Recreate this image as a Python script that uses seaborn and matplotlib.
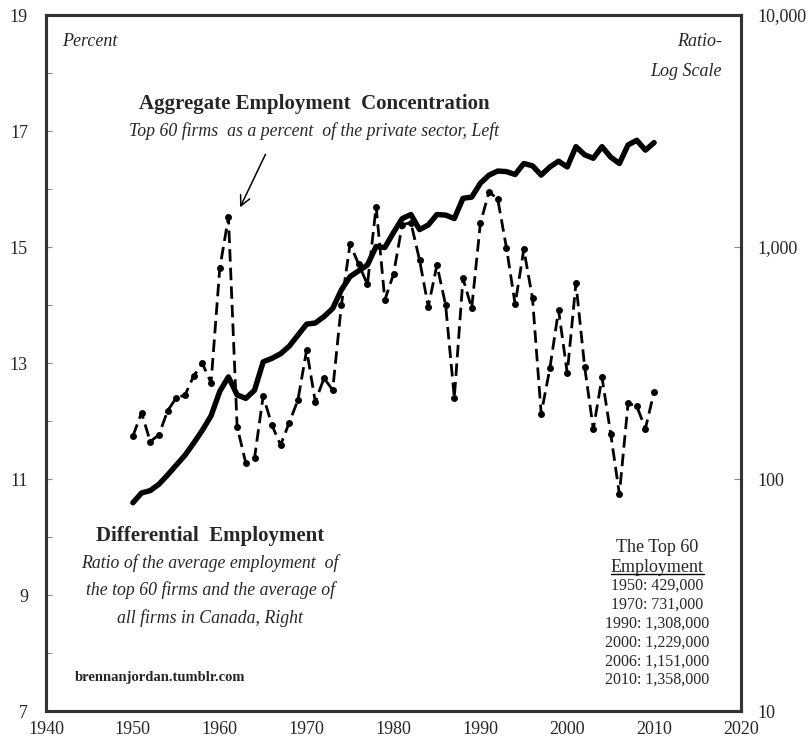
import numpy as np
import pandas as pd
import matplotlib
matplotlib.use('Agg')
import matplotlib.pyplot as plt
import seaborn as sns
from matplotlib.lines import Line2D
from matplotlib.ticker import FixedLocator, MultipleLocator, NullLocator

years = list(range(1950, 2011))

# Top 60 firms as % of private sector employment (left axis)
concentration = [
    10.59, 10.76, 10.80, 10.91, 11.07, 11.24, 11.41, 11.62, 11.84, 12.09,
    12.51, 12.76, 12.45, 12.39, 12.53, 13.02, 13.08, 13.16, 13.29, 13.48,
    13.67, 13.69, 13.80, 13.94, 14.26, 14.49, 14.59, 14.69, 15.01, 14.99,
    15.25, 15.49, 15.56, 15.30, 15.38, 15.56, 15.55, 15.49, 15.84, 15.86,
    16.10, 16.24, 16.31, 16.30, 16.25, 16.44, 16.40, 16.24, 16.38, 16.48,
    16.38, 16.73, 16.59, 16.53, 16.73, 16.55, 16.44, 16.76, 16.84, 16.67,
    16.80,
]

# differential employment ratio (right axis, log)
differential = [
    153, 193, 145, 155, 197, 224, 230, 278, 315, 260,
    809, 1343, 168, 117, 123, 228, 171, 140, 175, 219,
    360, 215, 272, 242, 562, 1030, 841, 690, 1493, 591,
    763, 1245, 1274, 879, 553, 836, 562, 224, 733, 544,
    1265, 1731, 1605, 993, 567, 977, 601, 191, 300, 535,
    286, 698, 305, 164, 274, 157, 86, 212, 206, 165,
    238,
]

left_ticks = [7, 9, 11, 13, 15, 17, 19]
right_ticks = [10, 100, 1000, 10000]
right_labels = ['10', '100', '1,000', '10,000']
x_ticks = list(range(1940, 2021, 10))

top60_years = ['1950', '1970', '1990', '2000', '2006', '2010']
top60_counts = ['429,000', '731,000', '1,308,000', '1,229,000', '1,151,000', '1,358,000']

df = pd.DataFrame({'Year': years, 'Concentration': concentration,
                   'Differential': differential})

sns.set_style('white')
plt.rcParams['font.family'] = ['Liberation Serif', 'DejaVu Serif']

W, H = 811, 744
fig = plt.figure(figsize=(W / 100, H / 100), dpi=100)
ax = fig.add_axes([46 / W, 1 - 711 / H, (741 - 46) / W, (711 - 15) / H])
ax2 = ax.twinx()

sns.lineplot(data=df, x='Year', y='Concentration', ax=ax, color='black',
             lw=3.9, solid_joinstyle='round', solid_capstyle='round')
sns.lineplot(data=df, x='Year', y='Differential', ax=ax2, color='black',
             lw=2.0, linestyle=(0, (4.5, 2.2)), marker='o', markersize=5,
             markeredgewidth=0)

ax.set_xlim(1940, 2020)
ax.set_ylim(7, 19)
ax2.set_yscale('log')
ax2.set_ylim(10, 10000)

ax.xaxis.set_major_locator(FixedLocator(x_ticks))
ax.xaxis.set_minor_locator(MultipleLocator(2.5))
ax.yaxis.set_major_locator(FixedLocator(left_ticks))
ax.yaxis.set_minor_locator(MultipleLocator(1))
ax2.yaxis.set_major_locator(FixedLocator(right_ticks))
ax2.yaxis.set_minor_locator(NullLocator())
ax2.set_yticklabels(right_labels)

ax.tick_params(axis='x', which='both', direction='in', length=4, width=0.8,
               color='#888888', labelsize=13, pad=7, top=False)
ax.tick_params(axis='y', which='both', direction='in', length=4, width=0.8,
               color='#888888', labelsize=13, pad=13)
ax2.tick_params(axis='y', which='both', direction='in', length=5, width=0.8,
                color='#888888', labelsize=13, pad=12)
ax.set_xlabel('')
ax.set_ylabel('')
ax2.set_ylabel('')

for a in (ax, ax2):
    for s in a.spines.values():
        s.set_color('#333333')
        s.set_linewidth(2.2)


def px(x, y):
    return x / W, 1 - y / H


fig.text(*px(62, 42), 'Percent', style='italic', fontsize=13, va='center', ha='left')
fig.text(*px(722, 42), 'Ratio-', style='italic', fontsize=13, va='center', ha='right')
fig.text(*px(722, 71), 'Log Scale', style='italic', fontsize=13, va='center', ha='right')

fig.text(*px(314, 104), 'Aggregate Employment  Concentration', fontsize=15,
         weight='bold', va='center', ha='center')
fig.text(*px(314, 131), 'Top 60 firms  as a percent  of the private sector, Left',
         fontsize=12.8, style='italic', va='center', ha='center')

ax.annotate('', xy=(1962.2, 15.64), xytext=(1965.4, 16.64),
            arrowprops=dict(arrowstyle='->', color='black', lw=1.1,
                            mutation_scale=18))

fig.text(*px(210, 536), 'Differential  Employment', fontsize=15,
         weight='bold', va='center', ha='center')
sub_lines = ['Ratio of the average employment  of',
             'the top 60 firms and the average of',
             'all firms in Canada, Right']
for i, line in enumerate(sub_lines):
    fig.text(*px(210, 563 + i * 27.5), line, fontsize=12.8, style='italic',
             va='center', ha='center')

fig.text(*px(75, 677), 'brennanjordan.tumblr.com', fontsize=10.5,
         weight='bold', va='center', ha='left')

fig.text(*px(657, 547), 'The Top 60', fontsize=13, va='center', ha='center')
emp = fig.text(*px(657, 567), 'Employment', fontsize=13, va='center', ha='center')
for i, (yr, cnt) in enumerate(zip(top60_years, top60_counts)):
    fig.text(*px(657, 586 + i * 18.8), f'{yr}: {cnt}', fontsize=11.5,
             va='center', ha='center')

# underline for "Employment"
fig.canvas.draw()
bb = emp.get_window_extent().transformed(fig.transFigure.inverted())
fig.add_artist(Line2D([bb.x0, bb.x1], [bb.y0 + 0.002, bb.y0 + 0.002],
                      transform=fig.transFigure, color='black', lw=1))

fig.savefig('out.png', dpi=100)
